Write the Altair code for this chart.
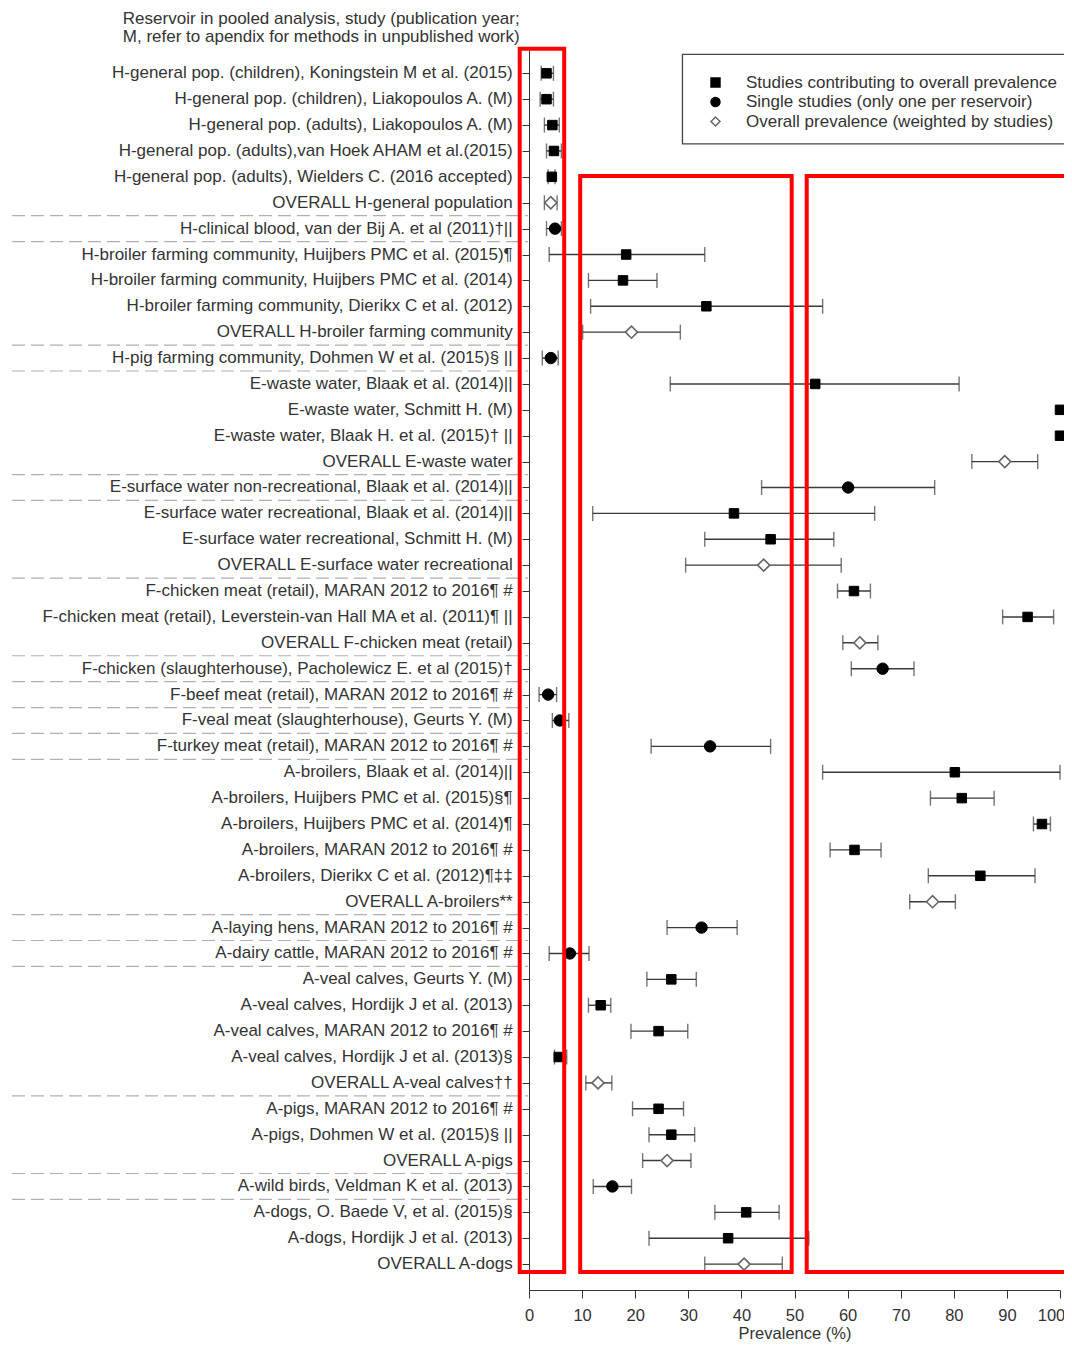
import altair as alt
import pandas as pd

# ---------------- data ----------------
labels = [
    "H-general pop. (children), Koningstein M et al. (2015)",
    "H-general pop. (children), Liakopoulos A. (M)",
    "H-general pop. (adults), Liakopoulos A. (M)",
    "H-general pop. (adults),van Hoek AHAM et al.(2015)",
    "H-general pop. (adults), Wielders C. (2016 accepted)",
    "OVERALL H-general population",
    "H-clinical blood, van der Bij A. et al (2011)†||",
    "H-broiler farming community, Huijbers PMC et al. (2015)¶",
    "H-broiler farming community, Huijbers PMC et al. (2014)",
    "H-broiler farming community, Dierikx C et al. (2012)",
    "OVERALL H-broiler farming community",
    "H-pig farming community, Dohmen W et al. (2015)§ ||",
    "E-waste water, Blaak et al. (2014)||",
    "E-waste water, Schmitt H. (M)",
    "E-waste water, Blaak H. et al. (2015)† ||",
    "OVERALL E-waste water",
    "E-surface water non-recreational, Blaak et al. (2014)||",
    "E-surface water recreational, Blaak et al. (2014)||",
    "E-surface water recreational, Schmitt H. (M)",
    "OVERALL E-surface water recreational",
    "F-chicken meat (retail), MARAN 2012 to 2016¶ #",
    "F-chicken meat (retail), Leverstein-van Hall MA et al. (2011)¶ ||",
    "OVERALL F-chicken meat (retail)",
    "F-chicken (slaughterhouse), Pacholewicz E. et al (2015)†",
    "F-beef meat (retail), MARAN 2012 to 2016¶ #",
    "F-veal meat (slaughterhouse), Geurts Y. (M)",
    "F-turkey meat (retail), MARAN 2012 to 2016¶ #",
    "A-broilers, Blaak et al. (2014)||",
    "A-broilers, Huijbers PMC et al. (2015)§¶",
    "A-broilers, Huijbers PMC et al. (2014)¶",
    "A-broilers, MARAN 2012 to 2016¶ #",
    "A-broilers, Dierikx C et al. (2012)¶‡‡",
    "OVERALL A-broilers**",
    "A-laying hens, MARAN 2012 to 2016¶ #",
    "A-dairy cattle, MARAN 2012 to 2016¶ #",
    "A-veal calves, Geurts Y. (M)",
    "A-veal calves, Hordijk J et al. (2013)",
    "A-veal calves, MARAN 2012 to 2016¶ #",
    "A-veal calves, Hordijk J et al. (2013)§",
    "OVERALL A-veal calves††",
    "A-pigs, MARAN 2012 to 2016¶ #",
    "A-pigs, Dohmen W et al. (2015)§ ||",
    "OVERALL A-pigs",
    "A-wild birds, Veldman K et al. (2013)",
    "A-dogs, O. Baede V, et al. (2015)§",
    "A-dogs, Hordijk J et al. (2013)",
    "OVERALL A-dogs",
]

est = [3.3, 3.3, 4.4, 4.7, 4.3, 4.1, 4.9, 18.3, 17.7, 33.4, 19.3, 4.1,
       53.9, 100.0, 100.0, 89.6, 60.1, 38.6, 45.5, 44.2, 61.2, 93.9, 62.3,
       66.6, 3.6, 5.8, 34.1, 80.2, 81.5, 96.6, 61.3, 85.0, 76.0, 32.5, 7.7,
       26.8, 13.5, 24.4, 5.6, 13.0, 24.4, 26.8, 26.0, 15.7, 40.9, 37.5, 40.5]

lo = [2.3, 2.1, 2.9, 3.3, 3.6, 2.9, 3.3, 3.8, 11.2, 11.6, 10.1, 2.5,
      26.6, None, None, 83.4, 43.8, 12.0, 33.1, 29.5, 58.1, 89.2, 59.1,
      60.7, 1.9, 4.4, 23.0, 55.3, 75.6, 95.0, 56.7, 75.2, 71.7, 26.0, 3.8,
      22.2, 11.2, 19.2, 4.8, 10.7, 19.5, 22.6, 21.4, 12.1, 35.0, 22.6, 33.1]

hi = [4.6, 4.6, 5.7, 6.1, 4.9, 5.3, 6.1, 33.1, 24.1, 55.3, 28.5, 5.5,
      81.0, None, None, 95.8, 76.4, 65.1, 57.4, 58.8, 64.3, 98.8, 65.7,
      72.5, 5.2, 7.5, 45.5, 100.0, 87.6, 98.2, 66.3, 95.3, 80.3, 39.2, 11.3,
      31.5, 15.4, 29.9, 7.1, 15.6, 29.1, 31.2, 30.5, 19.3, 47.1, 52.7, 47.7]

# S = contributing study, C = single study, D = overall prevalence
kind = ["S", "S", "S", "S", "S", "D", "C", "S", "S", "S", "D", "C",
        "S", "S", "S", "D", "C", "S", "S", "D", "S", "S", "D",
        "C", "C", "C", "C", "S", "S", "S", "S", "S", "D", "C", "C",
        "S", "S", "S", "S", "D", "S", "S", "D", "C", "S", "S", "D"]

kind_names = {
    "S": "Studies contributing to overall prevalence",
    "C": "Single studies (only one per reservoir)",
    "D": "Overall prevalence (weighted by studies)",
}
legend_order = [kind_names["S"], kind_names["C"], kind_names["D"]]

separator_after = [6, 7, 11, 12, 16, 17, 20, 23, 24, 25, 26, 27, 33, 34, 35, 40, 43, 44]

header_lines = ["Reservoir in pooled analysis, study (publication year;",
                "M, refer to apendix for methods in unpublished work)"]

x_ticks = [0, 10, 20, 30, 40, 50, 60, 70, 80, 90, 100]
x_title = "Prevalence (%)"

# highlight boxes (in axis units: prevalence %, row index)
box_x1 = [-1.75, 9.64, 52.3]
box_x2 = [6.63, 49.47, 106.0]
box_y1 = [0.05, 4.97, 4.97]
box_y2 = [47.3, 47.3, 47.3]

# legend frame (axis units)
frame_x1, frame_x2, frame_y1, frame_y2 = [28.9], [106.0], [0.27], [3.73]

# ---------------- frames ----------------
rows = list(range(1, len(labels) + 1))
df = pd.DataFrame({"row": rows, "label": labels, "est": est, "lo": lo, "hi": hi,
                   "type": [kind_names[k] for k in kind]})
sep_df = pd.DataFrame({"y": [s + 0.5 for s in separator_after]})
box_df = pd.DataFrame({"x1": box_x1, "x2": box_x2, "y1": box_y1, "y2": box_y2})
frame_df = pd.DataFrame({"x1": frame_x1, "x2": frame_x2, "y1": frame_y1, "y2": frame_y2})

FONT = "Liberation Sans"
TXT = "#333333"
FS = 17

xscale = alt.Scale(domain=[0, 100], nice=False, zero=False)
yscale = alt.Scale(domain=[0.1, 48.0], nice=False, zero=False, reverse=True)

xaxis = alt.Axis(values=x_ticks, title=x_title, grid=False, tickSize=8, labelPadding=9,
                 labelFontSize=16.5, titleFontSize=16.5, titleFontWeight="normal",
                 labelColor=TXT, titleColor=TXT, domainColor="#333", tickColor="#333",
                 titlePadding=2, labelFlush=False, format="d",
                 labelOffset={"condition": {"test": "datum.value == 100", "value": -9},
                              "value": 0})
yaxis = alt.Axis(values=rows, labels=False, title=None, grid=False, tickSize=7,
                 domainColor="#333", tickColor="#333")

base = alt.Chart(df)

bars = base.transform_filter("isValid(datum.lo)").mark_rule(
    color="#3a3a3a", strokeWidth=1.4
).encode(
    x=alt.X("lo:Q", scale=xscale, axis=xaxis),
    x2="hi:Q",
    y=alt.Y("row:Q", scale=yscale, axis=yaxis),
)

caps = base.transform_filter("isValid(datum.lo)").transform_fold(
    ["lo", "hi"], as_=["end", "xv"]
).mark_tick(orient="vertical", color="#3a3a3a", thickness=1.4, size=15).encode(
    x=alt.X("xv:Q", scale=xscale, axis=xaxis),
    y=alt.Y("row:Q", scale=yscale, axis=yaxis),
)

leg = alt.Legend(title=None, orient="none", legendX=178, legendY=24, padding=0,
                 labelFontSize=FS, labelColor=TXT, labelFont=FONT, labelLimit=500,
                 symbolSize=80, symbolStrokeWidth=1.5, labelOffset=22, rowPadding=1.5)

enc = dict(
    x=alt.X("est:Q", scale=xscale, axis=xaxis),
    y=alt.Y("row:Q", scale=yscale, axis=yaxis),
    shape=alt.Shape("type:N", scale=alt.Scale(domain=legend_order,
                                               range=["square", "circle", "diamond"]), legend=leg),
    fill=alt.Fill("type:N", scale=alt.Scale(domain=legend_order,
                                             range=["#000000", "#000000", "#ffffff"]), legend=leg),
    stroke=alt.Stroke("type:N", scale=alt.Scale(domain=legend_order,
                                                 range=["#000000", "#000000", "#666666"]), legend=leg),
)

marker_size = {"S": 90, "C": 130, "D": 145}
point_layers = [
    base.transform_filter(alt.datum.type == kind_names[k]).mark_point(
        opacity=1, size=marker_size[k], strokeWidth=1.6 if k == "D" else 1
    ).encode(**enc)
    for k in ["S", "C", "D"]
]

row_labels = base.mark_text(align="right", baseline="middle", fontSize=FS, color=TXT,
                            font=FONT).encode(
    x=alt.value(-16.3),
    y=alt.Y("row:Q", scale=yscale, axis=yaxis),
    text="label:N",
)

separators = alt.Chart(sep_df).mark_rule(color="#b0b0b0", strokeWidth=1.2,
                                         strokeDash=[13, 6]).encode(
    x=alt.value(-517),
    x2=alt.value(-1),
    y=alt.Y("y:Q", scale=yscale, axis=yaxis),
)

header = alt.Chart(pd.DataFrame({"t": [0]})).mark_text(
    text=header_lines, align="right", baseline="alphabetic", fontSize=FS, color=TXT,
    font=FONT, lineHeight=18.5,
).encode(x=alt.value(-9.3), y=alt.value(-26.5))

frame = alt.Chart(frame_df).mark_rect(fill=None, stroke="#444444", strokeWidth=1.3).encode(
    x=alt.X("x1:Q", scale=xscale, axis=xaxis), x2="x2:Q",
    y=alt.Y("y1:Q", scale=yscale, axis=yaxis), y2="y2:Q",
)

boxes = alt.Chart(box_df).mark_rect(fill=None, stroke="#ff0000", strokeWidth=4).encode(
    x=alt.X("x1:Q", scale=xscale, axis=xaxis), x2="x2:Q",
    y=alt.Y("y1:Q", scale=yscale, axis=yaxis), y2="y2:Q",
)

chart = alt.layer(
    separators, frame, bars, caps, *point_layers, row_labels, header, boxes
).properties(
    width=531, height=1240,
    autosize=alt.AutoSizeParams(type="none"),
    padding={"left": 521, "top": 42, "right": 4, "bottom": 54},
).configure(font=FONT).configure_view(stroke=None)

chart.save("out.html", embed_options={"renderer": "svg", "actions": False})
